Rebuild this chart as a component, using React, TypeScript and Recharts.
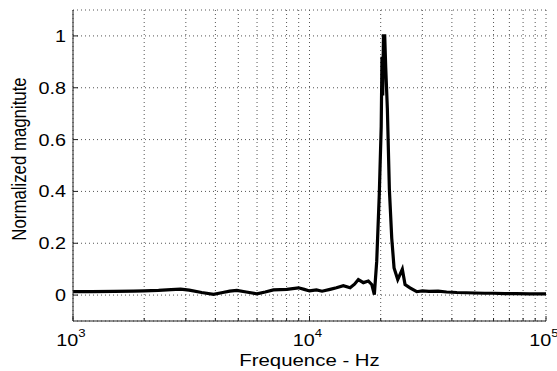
import React from "react";
import {
  LineChart,
  Line,
  XAxis,
  YAxis,
  CartesianGrid,
} from "recharts";

const freqs = [
  1000, 1200, 1500, 1800, 2000, 2300, 2600, 2850, 3100, 3500, 3930, 4300, 4600,
  4930, 5400, 5990, 6500, 7040, 8020, 8980, 9500, 10000, 10700, 11300, 12220,
  13000, 13900, 14850, 15500, 16090, 16900, 17740, 18330, 18800, 19240, 19730,
  20100, 20250, 20400, 20550, 20800, 21000, 21340, 21760, 22270, 22780, 23610,
  24150, 24690, 25350, 26600, 28400, 30000, 32000, 35000, 38000, 42000, 46000,
  50000, 55000, 60000, 67000, 75000, 85000, 100000,
];

const magnitudes = [
  0.013, 0.013, 0.014, 0.015, 0.016, 0.018, 0.021, 0.023, 0.019, 0.01, 0.003,
  0.01, 0.015, 0.018, 0.012, 0.005, 0.012, 0.02, 0.022, 0.028, 0.022, 0.016,
  0.02, 0.015, 0.022, 0.028, 0.036, 0.028, 0.042, 0.06, 0.048, 0.054, 0.041,
  0.002, 0.13, 0.39, 0.65, 0.92, 0.77, 1.0, 1.0, 0.88, 0.72, 0.41, 0.22, 0.105,
  0.06, 0.08, 0.1, 0.041, 0.028, 0.013, 0.016, 0.014, 0.015, 0.012, 0.01, 0.009,
  0.008, 0.007, 0.007, 0.006, 0.006, 0.005, 0.005,
];

const xTicks = [
  1000, 2000, 3000, 4000, 5000, 6000, 7000, 8000, 9000, 10000, 20000, 30000,
  40000, 50000, 60000, 70000, 80000, 90000, 100000,
];
const yTicks = [0, 0.2, 0.4, 0.6, 0.8, 1];

const xLabel = "Frequence - Hz";
const yLabel = "Normalized magnitute";

const data = freqs.map((f, i) => ({ f, v: magnitudes[i] }));

const FONT = "'Liberation Sans', Arial, Helvetica, sans-serif";
const AX = "#222";
const SX = 1.2;

const isMajor = (v: number) => {
  const e = Math.round(Math.log10(v));
  return Math.abs(Math.pow(10, e) - v) < 1e-6;
};

const XTickBottom = (props: any) => {
  const { x, y, payload } = props;
  const v = payload.value;
  const major = isMajor(v);
  const e = Math.round(Math.log10(v));
  return (
    <g>
      <line x1={x} y1={y} x2={x} y2={y - (major ? 5 : 3)} stroke={AX} />
      {major && (
        <text
          transform={`translate(${x - 2},${y + 25}) scale(${SX},1)`}
          x={0}
          y={0}
          textAnchor="middle"
          fontSize={16.5}
          fontFamily={FONT}
          fill="#000"
        >
          10
          <tspan dy={-9} fontSize={11}>
            {e}
          </tspan>
        </text>
      )}
    </g>
  );
};

const XTickTop = (props: any) => {
  const { x, y, payload } = props;
  const major = isMajor(payload.value);
  return <line x1={x} y1={y} x2={x} y2={y + (major ? 5 : 3)} stroke={AX} />;
};

const YTickLeft = (props: any) => {
  const { x, y, payload } = props;
  return (
    <g>
      <line x1={x} y1={y} x2={x + 5} y2={y} stroke={AX} />
      <text
        transform={`translate(${x - 7},${y}) scale(${SX},1)`}
        x={0}
        y={0}
        dy="0.36em"
        textAnchor="end"
        fontSize={16.5}
        fontFamily={FONT}
        fill="#000"
      >
        {String(payload.value)}
      </text>
    </g>
  );
};

const YTickRight = (props: any) => {
  const { x, y } = props;
  return <line x1={x} y1={y} x2={x - 5} y2={y} stroke={AX} />;
};

export default function App() {
  return (
    <div
      style={{
        position: "absolute",
        left: 0,
        top: 0,
        width: 557,
        height: 371,
        background: "#fff",
      }}
    >
      <LineChart
        width={557}
        height={371}
        data={data}
        margin={{ top: 10, right: 11, bottom: 0, left: 0 }}
      >
        <CartesianGrid
          stroke="#555"
          strokeDasharray="1 3"
          horizontal={true}
          vertical={true}
        />
        <XAxis
          dataKey="f"
          type="number"
          scale="log"
          domain={[1000, 100000]}
          ticks={xTicks}
          interval={0}
          allowDataOverflow
          height={50}
          tickSize={0}
          tickMargin={0}
          stroke={AX}
          tick={<XTickBottom />}
        />
        <XAxis
          xAxisId="top"
          orientation="top"
          dataKey="f"
          type="number"
          scale="log"
          domain={[1000, 100000]}
          ticks={xTicks}
          interval={0}
          allowDataOverflow
          height={0}
          tickSize={0}
          tickMargin={0}
          stroke={AX}
          tick={<XTickTop />}
        />
        <YAxis
          type="number"
          domain={[-0.1, 1.1]}
          ticks={yTicks}
          interval={0}
          allowDataOverflow
          width={73}
          tickSize={0}
          tickMargin={0}
          stroke={AX}
          tick={<YTickLeft />}
        />
        <YAxis
          yAxisId="right"
          orientation="right"
          type="number"
          domain={[-0.1, 1.1]}
          ticks={yTicks}
          interval={0}
          allowDataOverflow
          width={0}
          tickSize={0}
          tickMargin={0}
          stroke={AX}
          tick={<YTickRight />}
        />
        <Line
          type="linear"
          dataKey="v"
          stroke="#000"
          strokeWidth={3.2}
          dot={false}
          isAnimationActive={false}
        />
      </LineChart>
      <svg
        width={557}
        height={371}
        style={{ position: "absolute", left: 0, top: 0, pointerEvents: "none" }}
      >
        <text
          transform={`translate(309.5,366) scale(${SX},1)`}
          x={0}
          y={0}
          textAnchor="middle"
          fontSize={17}
          fontFamily={FONT}
          fill="#000"
        >
          {xLabel}
        </text>
        <text
          x={0}
          y={0}
          transform={`translate(26,159) scale(${SX},1) rotate(-90)`}
          textAnchor="middle"
          fontSize={16.8}
          fontFamily={FONT}
          fill="#000"
        >
          {yLabel}
        </text>
      </svg>
    </div>
  );
}
